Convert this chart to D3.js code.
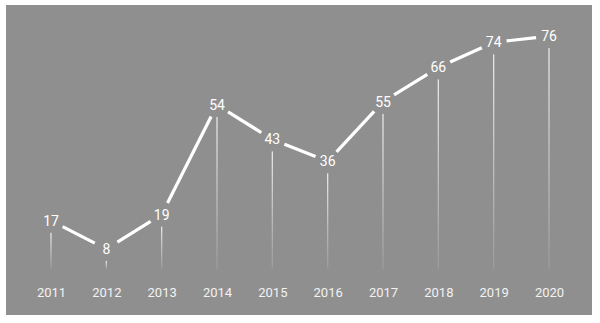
<!DOCTYPE html>
<html><head><meta charset="utf-8">
<script src="https://cdn.jsdelivr.net/npm/d3@7"></script>
<style>html,body{margin:0;padding:0;background:#fff;}svg{display:block;}</style>
</head><body>
<script>
const years = ["2011","2012","2013","2014","2015","2016","2017","2018","2019","2020"];
const values = [17, 8, 19, 54, 43, 36, 55, 66, 74, 76];

const W = 600, H = 323;
const svg = d3.select("body").append("svg").attr("width", W).attr("height", H);
const defs = svg.append("defs");
const grad = defs.append("linearGradient").attr("id","fade").attr("x1",0).attr("y1",0).attr("x2",0).attr("y2",1);
grad.append("stop").attr("offset","0%").attr("stop-color","#fff").attr("stop-opacity",0.8);
grad.append("stop").attr("offset","100%").attr("stop-color","#fff").attr("stop-opacity",0.1);

svg.append("rect").attr("x",6).attr("y",5).attr("width",586).attr("height",310).attr("fill","#8f8f8f");

const x = d3.scalePoint().domain(years).range([51, 549]);
const y = d3.scaleLinear().domain([0, 80]).range([274, 23.6]);
const data = years.map((yr,i)=>({yr, v: values[i]}));

// vertical drop lines
svg.append("g").selectAll("rect").data(data).join("rect")
  .attr("x", d => x(d.yr) - 0.65)
  .attr("y", d => y(d.v) + 12)
  .attr("width", 1.3)
  .attr("height", d => Math.max(0, 269 - (y(d.v) + 12)))
  .attr("fill", "url(#fade)");

// connecting segments with gaps around labels
const gap = 13;
const segs = d3.pairs(data).map(([a,b]) => {
  const x1 = x(a.yr), y1 = y(a.v), x2 = x(b.yr), y2 = y(b.v);
  const dx = x2-x1, dy = y2-y1, L = Math.hypot(dx,dy);
  const ux = dx/L, uy = dy/L;
  return {x1: x1+ux*gap, y1: y1+uy*gap, x2: x2-ux*gap, y2: y2-uy*gap};
});
svg.append("g").selectAll("line").data(segs).join("line")
  .attr("x1", d=>d.x1).attr("y1", d=>d.y1).attr("x2", d=>d.x2).attr("y2", d=>d.y2)
  .attr("stroke","#fff").attr("stroke-width",3.2).attr("stroke-linecap","butt");

// value labels
svg.append("g").selectAll("text").data(data).join("text")
  .attr("x", d=>x(d.yr)).attr("y", d=>y(d.v))
  .attr("dy","0.36em").attr("text-anchor","middle")
  .attr("font-family","Roboto, sans-serif").attr("font-size",14)
  .attr("fill","#fff").text(d=>d.v);

// x axis labels
const xAxis = d3.axisBottom(x).tickSize(0).tickPadding(0);
const gx = svg.append("g").attr("transform","translate(0,288)").call(xAxis);
gx.select(".domain").remove();
gx.selectAll("text").attr("font-family","Roboto, sans-serif").attr("font-size",13).attr("fill","#f2f2f2");
</script>
</body></html>
